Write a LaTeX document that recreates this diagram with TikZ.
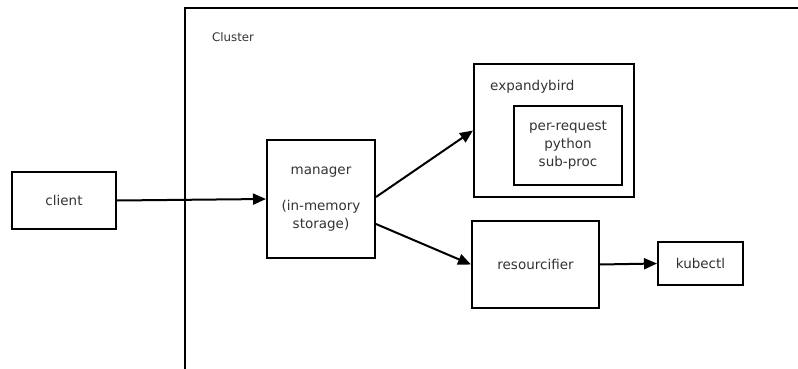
\documentclass[tikz,border=0pt]{standalone}
\usepackage{fontspec}
\setmainfont{DejaVu Sans}
\usetikzlibrary{arrows.meta}
\begin{document}
\begin{tikzpicture}[x=1pt,y=-1pt,
  boxnode/.style={draw=black, line width=2pt, inner sep=0pt, align=center,
    text=black!80, font=\fontsize{13.5}{18}\selectfont},
  lbl/.style={inner sep=0pt, text=black!80, font=\fontsize{13.5}{18}\selectfont},
  conn/.style={line width=2pt, -{Triangle[length=13pt,width=11pt]}}]
\useasboundingbox (0,0) rectangle (798,369);
% cluster frame (open at right and bottom)
\coordinate (ctr) at (798,8);
\coordinate (ctl) at (185,8);
\coordinate (cbl) at (185,369);
\draw[line width=2pt] (ctr) -- (ctl) -- (cbl);
\node[lbl, font=\fontsize{11.8}{14}\selectfont, anchor=west] (clusterlbl) at (212,37) {Cluster};
% nodes
\node[boxnode, minimum width=104pt, minimum height=57pt] (client) at (64,200.5) {client};
\node[boxnode, minimum width=108pt, minimum height=118pt] (manager) at (321,199) {};
\node[lbl, align=center] (managertxt) at (321,199) {manager\\[18pt](in-memory\\storage)};
\node[boxnode, minimum width=160pt, minimum height=133pt] (expandy) at (554,130.5) {};
\node[lbl, anchor=west] (expandylbl) at (490,87) {expandybird};
\node[boxnode, minimum width=108pt, minimum height=79pt] (subproc) at (568,145.5) {per-request\\python\\sub-proc};
\node[boxnode, minimum width=127pt, minimum height=87pt] (resour) at (535.5,264.5) {resourcifier};
\node[boxnode, minimum width=85pt, minimum height=43pt] (kubectl) at (700.5,263.5) {kubectl};
% connectors
\draw[conn] (client.east) -- (manager.west);
\draw[conn] ([yshift=2pt]manager.east) -- (expandy.west);
\draw[conn] ([yshift=-25pt]manager.east) -- (resour.west);
\draw[conn] (resour.east) -- (kubectl.west);
\end{tikzpicture}
\end{document}
